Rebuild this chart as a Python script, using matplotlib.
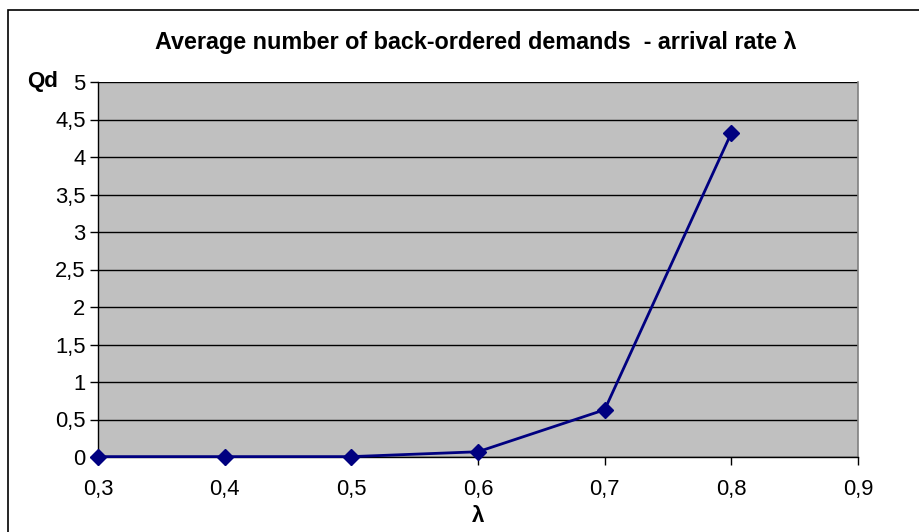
import matplotlib
matplotlib.use("Agg")
import matplotlib.pyplot as plt
from matplotlib.patches import Rectangle
from matplotlib.ticker import FuncFormatter

# data
lam = [0.3, 0.4, 0.5, 0.6, 0.7, 0.8]
qd = [0.005, 0.005, 0.005, 0.07, 0.63, 4.32]
x_ticks = [0.3, 0.4, 0.5, 0.6, 0.7, 0.8, 0.9]
y_ticks = [0, 0.5, 1, 1.5, 2, 2.5, 3, 3.5, 4, 4.5, 5]


def comma(v, pos):
    s = ("%g" % v)
    return s.replace(".", ",")


def main():
    plt.rcParams['font.family'] = ['Liberation Sans', 'DejaVu Sans']
    W, H = 919, 532
    fig = plt.figure(figsize=(W / 100, H / 100), dpi=100)
    ax = fig.add_axes([98 / W, 1 - 457 / H, (858 - 98) / W, (457 - 82) / H])

    # outer chart border (cut off at right and bottom in the original)
    fig.patches.append(Rectangle((8 / W, -0.05), 1.0, 1 - 10 / H + 0.05,
                                 transform=fig.transFigure, fill=False,
                                 edgecolor='black', linewidth=1.2))

    ax.set_facecolor('#c0c0c0')
    ax.plot(lam, qd, color='#000080', linewidth=2, marker='D', markersize=8,
            clip_on=False, zorder=3)

    ax.set_xlim(0.3, 0.9)
    ax.set_ylim(0, 5)
    ax.set_xticks(x_ticks)
    ax.set_yticks(y_ticks)
    ax.xaxis.set_major_formatter(FuncFormatter(comma))
    ax.yaxis.set_major_formatter(FuncFormatter(comma))
    ax.yaxis.grid(True, color='black', linewidth=1)
    ax.set_axisbelow(True)
    ax.tick_params(direction='out', length=6, width=1, labelsize=15.8,
                   colors='black', pad=3)
    ax.tick_params(axis='x', pad=10)

    for side in ['top', 'right']:
        ax.spines[side].set_color('#808080')
        ax.spines[side].set_linewidth(1.2)
    for side in ['left', 'bottom']:
        ax.spines[side].set_color('black')
        ax.spines[side].set_linewidth(1)
    ax.spines['top'].set_visible(False)

    fig.text(476 / W, 1 - 42 / H, "Average number of back-ordered demands  - arrival rate λ",
             ha='center', va='center', fontsize=16.8, fontweight='bold')
    fig.text(43 / W, 1 - 82 / H, "Qd", ha='center', va='center',
             fontsize=16, fontweight='bold')
    fig.text(478 / W, 1 - 516 / H, "λ", ha='center', va='center',
             fontsize=16, fontweight='bold')

    fig.savefig("out.png", dpi=100)


if __name__ == "__main__":
    main()
